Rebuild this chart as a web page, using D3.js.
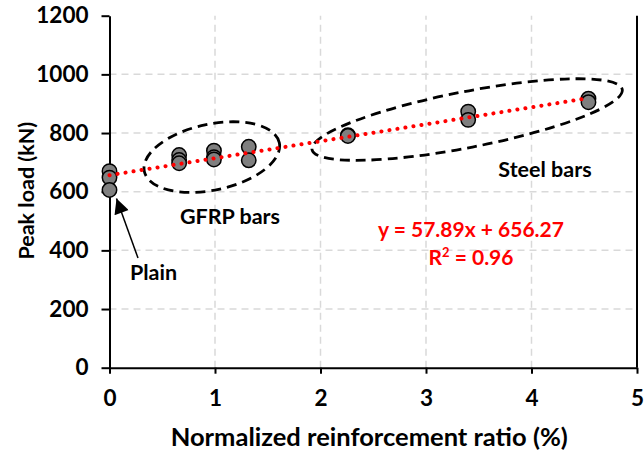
<!DOCTYPE html>
<html>
<head>
<meta charset="utf-8">
<script src="https://cdn.jsdelivr.net/npm/d3@7"></script>
<style>
  html, body { margin: 0; padding: 0; background: #fff; }
  svg { display: block; font-family: Lato, "Open Sans", sans-serif; font-weight: bold; }
</style>
</head>
<body>
<svg id="chart" width="644" height="453"></svg>
<script>
// Specimen groups: normalized reinforcement ratio (%) and peak load (kN)
const plainX = [0, 0, 0];
const plainY = [670, 648, 606];
const gfrpX = [0.66, 0.66, 0.66, 0.99, 0.99, 0.99, 1.32, 1.32];
const gfrpY = [725, 708, 697, 740, 718, 710, 753, 707];
const steelX = [2.26, 2.26, 3.40, 3.40, 4.54, 4.54];
const steelY = [793, 790, 873, 845, 917, 905];

// Linear fit through all specimens
const fitSlope = 57.89;
const fitIntercept = 656.27;
const fitR2 = 0.96;
const fitRange = [0, 4.54];

// Axis ticks
const xTicks = [0, 1, 2, 3, 4, 5];
const yTicks = [0, 200, 400, 600, 800, 1000, 1200];

// Group outlines (centre in data units)
const groupNames = ["GFRP bars", "Steel bars"];
const groupCentreX = [0.97, 3.39];
const groupCentreY = [718, 846];

const svg = d3.select("#chart");
const x = d3.scaleLinear().domain([0, 5]).range([109.5, 637]);
const y = d3.scaleLinear().domain([0, 1200]).range([367.7, 15.7]);

// Gridlines
const grid = svg.append("g")
  .attr("stroke", "#d9d9d9").attr("stroke-width", 1.5).attr("stroke-dasharray", "7,5");
grid.selectAll("line.h").data(yTicks.filter(v => v > 0 && v < 1200)).join("line")
  .attr("class", "h")
  .attr("x1", x(0)).attr("x2", x(5))
  .attr("y1", d => y(d)).attr("y2", d => y(d));
grid.selectAll("line.v").data(xTicks.filter(v => v > 0 && v < 5)).join("line")
  .attr("class", "v")
  .attr("x1", d => x(d)).attr("x2", d => x(d))
  .attr("y1", y(0)).attr("y2", y(1200));

// Axes
const xAxis = svg.append("g").attr("transform", `translate(0,${y(0)})`)
  .call(d3.axisBottom(x).tickValues(xTicks).tickFormat(d3.format("d"))
    .tickSize(6).tickPadding(16).tickSizeOuter(0));
const yAxis = svg.append("g").attr("transform", `translate(${x(0)},0)`)
  .call(d3.axisLeft(y).tickValues(yTicks).tickFormat(d3.format("d"))
    .tickSize(8).tickPadding(13).tickSizeOuter(0));
[xAxis, yAxis].forEach(a => {
  a.select(".domain").attr("stroke", "#000").attr("stroke-width", 2);
  a.selectAll(".tick line").attr("stroke", "#000").attr("stroke-width", 2);
  a.selectAll(".tick text").attr("fill", "#000")
    .style("font-family", "Lato, sans-serif").style("font-weight", "bold").style("font-size", "22.5px");
});
// right frame line
svg.append("line")
  .attr("x1", x(5)).attr("x2", x(5)).attr("y1", y(0)).attr("y2", y(1200))
  .attr("stroke", "#000").attr("stroke-width", 2);

// Axis titles
svg.append("text")
  .attr("x", (x(0) + x(5)) / 2 - 4).attr("y", 446)
  .attr("text-anchor", "middle").attr("font-size", 25.5).attr("fill", "#000")
  .text("Normalized reinforcement ratio (%)");
svg.append("text")
  .attr("transform", `translate(34,${(y(0) + y(1200)) / 2 - 1}) rotate(-90)`)
  .attr("text-anchor", "middle").attr("font-size", 21.5).attr("fill", "#000")
  .text("Peak load (kN)");

// Group outlines
const ellipseRx = [69, 158];
const ellipseRy = [33, 28];
const ellipseAngle = [-12, -11];
groupNames.forEach((name, i) => {
  svg.append("ellipse")
    .attr("transform", `translate(${x(groupCentreX[i])},${y(groupCentreY[i])}) rotate(${ellipseAngle[i]})`)
    .attr("rx", ellipseRx[i]).attr("ry", ellipseRy[i])
    .attr("fill", "none").attr("stroke", "#000").attr("stroke-width", 2.8)
    .attr("stroke-dasharray", "10,6");
});

// Specimen markers
const pts = [];
[[plainX, plainY], [gfrpX, gfrpY], [steelX, steelY]].forEach(([xs, ys]) =>
  xs.forEach((v, i) => pts.push({ x: v, y: ys[i] })));
svg.append("g").selectAll("circle").data(pts).join("circle")
  .attr("cx", d => x(d.x)).attr("cy", d => y(d.y)).attr("r", 7.2)
  .attr("fill", "#7f7f7f").attr("stroke", "#000").attr("stroke-width", 1.5);

// Trend line
const fit = v => fitSlope * v + fitIntercept;
svg.append("path")
  .datum(fitRange)
  .attr("d", d3.line().x(v => x(v)).y(v => y(fit(v))))
  .attr("fill", "none").attr("stroke", "#ff0000").attr("stroke-width", 4)
  .attr("stroke-linecap", "round").attr("stroke-dasharray", "0.1,8");

// Labels
svg.append("text").attr("x", 230).attr("y", 224).attr("text-anchor", "middle")
  .attr("font-size", 21.5).attr("fill", "#000").text(groupNames[0]);
svg.append("text").attr("x", 545).attr("y", 177).attr("text-anchor", "middle")
  .attr("font-size", 21.5).attr("fill", "#000").text(groupNames[1]);
svg.append("text").attr("x", 153.5).attr("y", 280).attr("text-anchor", "middle")
  .attr("font-size", 21.5).attr("fill", "#000").text("Plain");

// Arrow pointing at the plain specimens
svg.append("defs").append("marker")
  .attr("id", "head").attr("viewBox", "0 0 10 10").attr("refX", 10).attr("refY", 5)
  .attr("markerWidth", 18).attr("markerHeight", 15).attr("markerUnits", "userSpaceOnUse")
  .attr("orient", "auto")
  .append("path").attr("d", "M0,0 L10,5 L0,10 Z").attr("fill", "#000");
svg.append("line")
  .attr("x1", 138).attr("y1", 258).attr("x2", 116.5).attr("y2", 198.5)
  .attr("stroke", "#000").attr("stroke-width", 1.5).attr("marker-end", "url(#head)");

// Fit equation
svg.append("text").attr("x", 471).attr("y", 237).attr("text-anchor", "middle")
  .attr("font-size", 21).attr("fill", "#ff0000")
  .text(`y = ${fitSlope.toFixed(2)}x + ${fitIntercept.toFixed(2)}`);
const r2 = svg.append("text").attr("x", 471).attr("y", 265).attr("text-anchor", "middle")
  .attr("font-size", 21).attr("fill", "#ff0000");
r2.append("tspan").text("R");
r2.append("tspan").attr("dy", -8).attr("font-size", 13).text("2");
r2.append("tspan").attr("dy", 8).text(` = ${fitR2.toFixed(2)}`);
</script>
</body>
</html>
